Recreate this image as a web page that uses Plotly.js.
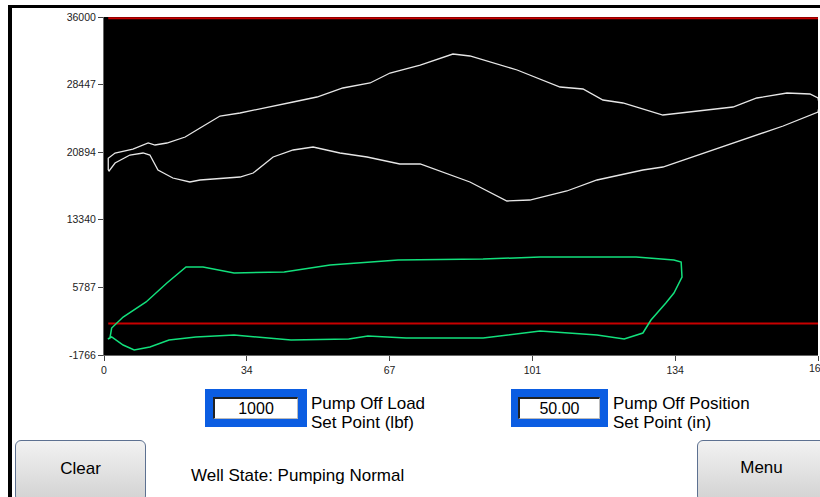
<!DOCTYPE html>
<html>
<head>
<meta charset="utf-8">
<script src="https://cdn.plot.ly/plotly-3.0.1.min.js"></script>
<style>
  html, body { margin: 0; padding: 0; background: #ffffff; }
  body { width: 820px; height: 497px; position: relative; overflow: hidden; font-family: Arial, "Liberation Sans", sans-serif; }
  #chart { position: absolute; left: 0; top: 0; width: 820px; height: 497px; }
  .abs { position: absolute; }
  .frameTop { left: 8px; top: 5px; width: 812px; height: 3px; background: #000; }
  .frameLeft { left: 8px; top: 5px; width: 4px; height: 492px; background: #000; }
  .blue { background: #0b5de2; }
  .inp { background: #fff; border-top: 2px solid #222; border-left: 2px solid #222; border-right: 1px solid #bbb; border-bottom: 1px solid #bbb; box-sizing: border-box;
         font-size: 16px; color: #000; text-align: center; line-height: 19px; }
  .lbl { font-size: 17px; color: #000; line-height: 18.5px; white-space: nowrap; }
  .btn { border: 1px solid #5d7191; border-radius: 6px; background: linear-gradient(#f2f2f2, #d2d2d2); box-sizing: border-box;
         font-size: 17px; color: #000; text-align: center; }
</style>
</head>
<body>
<div id="chart"></div>
<div class="abs frameTop"></div>
<div class="abs frameLeft"></div>

<div class="abs blue" style="left:205px;top:389px;width:102px;height:38px;"></div>
<div class="abs inp" style="left:213px;top:397px;width:85px;height:22px;">1000</div>
<div class="abs lbl" style="left:311px;top:395px;">Pump Off Load<br>Set Point (lbf)</div>

<div class="abs blue" style="left:511px;top:389px;width:97px;height:38px;"></div>
<div class="abs inp" style="left:518px;top:397px;width:82px;height:22px;">50.00</div>
<div class="abs lbl" style="left:613px;top:395px;">Pump Off Position<br>Set Point (in)</div>

<div class="abs btn" style="left:15px;top:440px;width:131px;height:62px;line-height:56px;">Clear</div>
<div class="abs btn" style="left:697px;top:440px;width:135px;height:62px;line-height:54px;padding-right:4px;"><span style="position:relative;left:-1px;">Menu</span></div>
<div class="abs lbl" style="left:191px;top:467px;">Well State: Pumping Normal</div>

<script>
// Axis ticks
const xTickVals = [0, 33.6, 67.2, 100.8, 134.4, 168];
const xTickText = ['0', '34', '67', '101', '134', ''];
const xEdgeLabel = '168';
const yTickVals = [-1766, 5787.2, 13340.4, 20893.6, 28446.8, 36000];
const yTickText = ['-1766', '5787', '13340', '20894', '28447', '36000'];

// Surface card (white) - position (in), load (lbf)
const surfX = [1.0, 1.0, 2.6, 6.8, 10.4, 12.0, 14.8, 19.1, 22.6, 27.3, 32.0, 38.4, 44.5, 50.1, 56.2, 62.6, 67.3, 74.4, 82.1, 86.1, 90.8, 97.2, 107.3, 112.7, 117.4, 122.1, 131.5, 148.0, 153.6, 160.7, 166.1, 168.0, 168.3,
               168.0, 159.8, 148.0, 137.9, 131.5, 126.8, 116.0, 108.9, 100.2, 94.8, 86.1, 74.4, 69.6, 61.9, 55.5, 49.2, 44.5, 39.8, 35.1, 32.0, 22.6, 20.2, 16.2, 12.7, 10.8, 9.2, 6.1, 2.6, 1.2, 1.0];
const surfY = [18905, 20211, 20804, 21250, 21921, 21697, 21921, 22592, 23597, 24938, 25273, 25944, 26502, 27061, 28067, 28626, 29743, 30636, 31865, 31642, 30972, 30078, 28179, 27955, 26726, 26391, 25050, 25944, 26950, 27508, 27397, 26950, 26167,
               25384, 23820, 21921, 20245, 19239, 18904, 17787, 16558, 15552, 15441, 17564, 19575, 19575, 20357, 20804, 21474, 21139, 20357, 18569, 18122, 17787, 17564, 18010, 18904, 20580, 20804, 20580, 19687, 18792, 18905];

// Pump card (green)
const pumpX = [1.4, 1.8, 4.5, 9.9, 14.8, 19.3, 23.3, 30.6, 42.4, 53.2, 69.2, 89.2, 102.6, 111.5, 125.2, 134.1, 135.8, 136.0, 134.1, 132.2, 128.7, 126.8,
               122.4, 116.0, 102.6, 89.2, 71.1, 62.1, 57.6, 44.0, 35.1, 30.6, 21.6, 15.3, 10.8, 7.1, 4.5, 2.6, 1.8, 0.9, 1.4];
const pumpY = [134, 1251, 2480, 4156, 6279, 8066, 8066, 7396, 7508, 8290, 8848, 8960, 9184, 9184, 9184, 8848, 8625, 6949, 5161, 4044, 2145, 692,
               22, 469, 916, 134, 134, 357, 22, -90, 245, 469, 245, -90, -872, -1207, -649, 22, 245, 22, 134];

// Set point lines
const limitX = [1, 168];
const upperLimitY = [35850, 35850];
const pumpOffLoadY = [1750, 1750];

const traces = [
  { x: limitX, y: upperLimitY, mode: 'lines', line: { color: '#c80000', width: 2 }, hoverinfo: 'skip' },
  { x: limitX, y: pumpOffLoadY, mode: 'lines', line: { color: '#c80000', width: 2 }, hoverinfo: 'skip' },
  { x: surfX, y: surfY, mode: 'lines', line: { color: '#e6e6e6', width: 1.3 } },
  { x: pumpX, y: pumpY, mode: 'lines', line: { color: '#12e07c', width: 1.5 } }
];

const layout = {
  width: 820, height: 497,
  margin: { l: 104, r: 2, t: 17, b: 142, pad: 0 },
  paper_bgcolor: 'rgba(0,0,0,0)',
  plot_bgcolor: '#000000',
  showlegend: false,
  font: { family: 'Arial, "Liberation Sans", sans-serif', size: 10.5, color: '#222' },
  xaxis: {
    range: [0, 168], tickmode: 'array', tickvals: xTickVals, ticktext: xTickText,
    showgrid: false, zeroline: false, showline: true, linecolor: '#666', linewidth: 1,
    ticks: 'outside', ticklen: 5, tickcolor: '#444', tickwidth: 1, fixedrange: true,
    tickfont: { size: 10.5, color: '#222' }
  },
  yaxis: {
    range: [-1766, 36000], tickmode: 'array', tickvals: yTickVals, ticktext: yTickText,
    showgrid: false, zeroline: false, showline: true, linecolor: '#666', linewidth: 1,
    ticks: 'outside', ticklen: 5, tickcolor: '#444', tickwidth: 1, fixedrange: true,
    tickfont: { size: 10.5, color: '#222' }
  },
  annotations: [
    { x: 168, xref: 'x', y: 0, yref: 'paper', yshift: -13, text: xEdgeLabel, showarrow: false,
      xanchor: 'center', yanchor: 'middle', font: { size: 10.5, color: '#222' } }
  ]
};

Plotly.newPlot('chart', traces, layout, { displayModeBar: false, staticPlot: true });
</script>
</body>
</html>
